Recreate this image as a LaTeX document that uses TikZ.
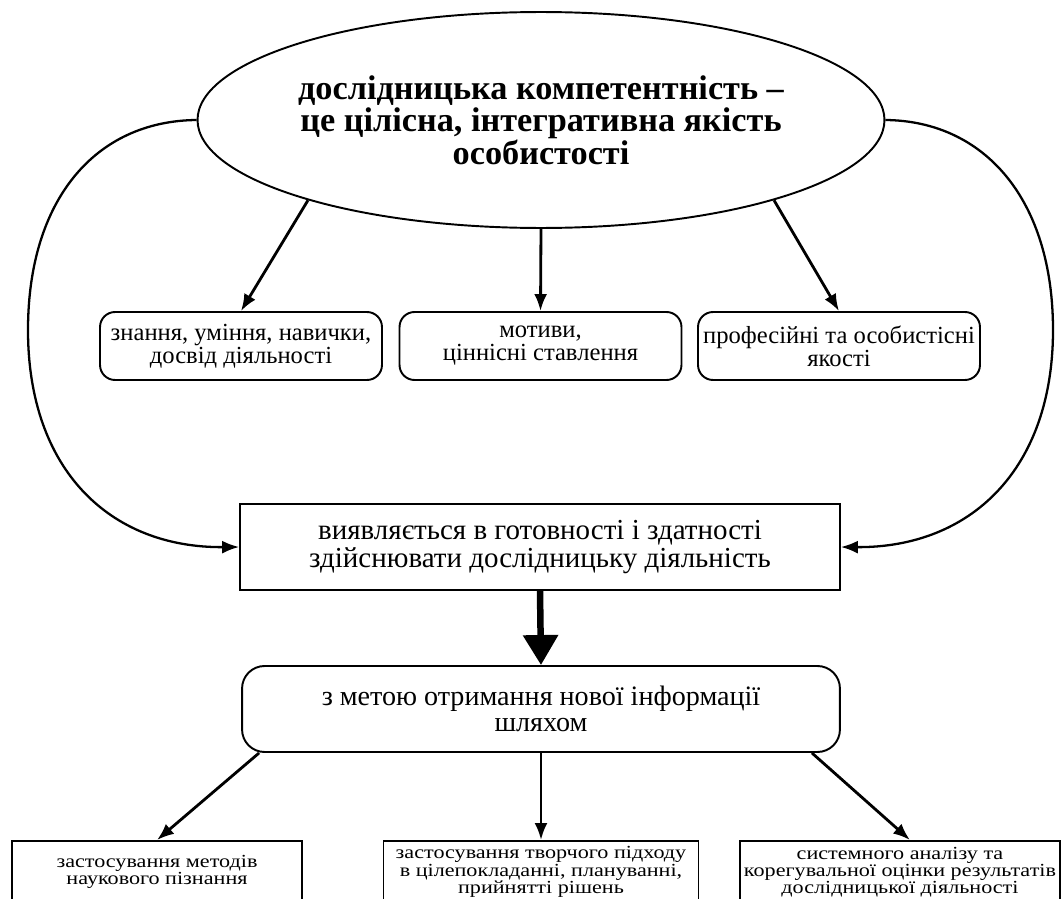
\documentclass[tikz,border=0pt]{standalone}
\usepackage{fontspec}
\setmainfont{Liberation Serif}
\newfontfamily\widefont[FakeStretch=1.2]{Liberation Serif}
\usetikzlibrary{shapes.geometric,arrows.meta,positioning}

\begin{document}
\begin{tikzpicture}[x=0.02cm,y=-0.02cm,
    oval/.style={draw,ellipse,line width=1.1pt,minimum width=13.52cm,minimum height=4.32cm,inner sep=0pt,align=center,font=\fontsize{19.5}{18.5}\selectfont\bfseries},
    roundbox/.style={draw,line width=1.1pt,rounded corners=0.3cm,minimum width=5.64cm,minimum height=1.36cm,inner sep=1pt,align=center,font=\fontsize{14}{13}\selectfont},
    bigbox/.style={draw,line width=1.1pt,minimum width=12cm,minimum height=1.72cm,align=center,font=\fontsize{16}{15}\selectfont},
    lowbox/.style={draw,line width=1.1pt,minimum height=1.24cm,inner sep=1pt,align=center,font=\widefont\fontsize{10.5}{9.8}\selectfont},
    arr/.style={-{Latex[length=0.34cm,width=0.26cm]},line width=1.6pt},
    loop/.style={-{Latex[length=0.34cm,width=0.26cm]},line width=1.3pt}
  ]
  \useasboundingbox (0,0) rectangle (1063,899);
  \clip (0,0) rectangle (1063,899);

  \node[oval] (def) at (541,120) {дослідницька компетентність –\\це цілісна, інтегративна якість\\особистості};

  \node[roundbox] (know) at (241,346) {знання, уміння, навички,\\досвід діяльності};
  \node[roundbox] (motiv) at (540.5,346) {мотиви,\\ціннісні ставлення};
  \node[roundbox] (qual) at (839,346) {професійні та особистісні\\якості};

  \node[bigbox,font=\fontsize{16.5}{15.5}\selectfont] (ready) at (540,547) {виявляється в готовності і здатності\\здійснювати дослідницьку діяльність};
  \node[bigbox,rounded corners=0.45cm,minimum width=11.96cm] (aim) at (541,709) {з метою отримання нової інформації\\шляхом};

  \node[lowbox,minimum width=5.8cm] (meth) at (157,872) {застосування методів\\наукового пізнання};
  \node[lowbox,minimum width=6.3cm] (creat) at (541,872) {застосування творчого підходу\\в цілепокладанні, плануванні,\\прийнятті рішень};
  \node[lowbox,minimum width=6.4cm] (anal) at (900,872) {системного аналізу та\\корегувальної оцінки результатів\\дослідницької діяльності};

  % from the oval down
  \draw[arr] (def.199) -- (know.north);
  \draw[arr] (def.south) -- (motiv.north);
  \draw[arr] (def.341) -- (qual.north);

  % side loops
  \draw[loop] (def.west) .. controls (95,121) and (28,200) .. (28,330) .. controls (28,470) and (110,548) .. (ready.west);
  \draw[loop] (def.east) .. controls (985,121) and (1053,200) .. (1053,330) .. controls (1053,470) and (970,548) .. (ready.east);

  \draw[-{Triangle[length=0.6cm,width=0.68cm]},line width=0.13cm] (ready.south) -- (aim.north);

  \draw[arr] ([xshift=0.36cm]aim.south west) -- (meth.north);
  \draw[arr] (aim.south) -- (creat.north);
  \draw[arr] ([xshift=-0.58cm]aim.south east) -- ([xshift=0.2cm]anal.north);
\end{tikzpicture}
\end{document}
